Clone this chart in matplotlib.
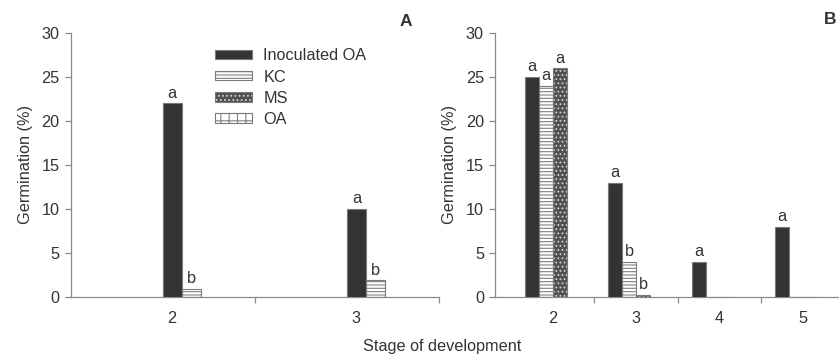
import matplotlib
matplotlib.use("Agg")
import matplotlib.pyplot as plt
from matplotlib.patches import Patch
import numpy as np

plt.rcParams['font.family'] = ['Liberation Sans', 'DejaVu Sans']
plt.rcParams['hatch.linewidth'] = 0.8

series = ["Inoculated OA", "KC", "MS", "OA"]

# Panel A
cats_a = ["2", "3"]
inoc_a = [22, 10]
kc_a = [0.9, 1.9]
letters_a_inoc = ["a", "a"]
letters_a_kc = ["b", "b"]

# Panel B
cats_b = ["2", "3", "4", "5"]
inoc_b = [25, 13, 4, 8]
kc_b = [24, 4, 0, 0]
ms_b = [26, 0.25, 0, 0]
letters_b_inoc = ["a", "a", "a", "a"]
letters_b_kc = ["a", "b", None, None]
letters_b_ms = ["a", "b", None, None]

TXT = '#333333'
SPN = '#8a8a8a'
EDGE = '#7a7a7a'
FS = 11.7

styles = {
    "Inoculated OA": dict(face='#333333', hatch=None, hcol=None),
    "KC": dict(face='white', hatch='-----', hcol='#808080'),
    "MS": dict(face='#505050', hatch='....', hcol='#d0d0d0'),
    "OA": dict(face='white', hatch='++', hcol='#808080'),
}

def draw_bars(ax, x, h, width, name):
    st = styles[name]
    if st['hatch']:
        ax.bar(x, h, width, align='edge', color=st['face'], edgecolor=st['hcol'],
               hatch=st['hatch'], linewidth=0, zorder=2)
        ax.bar(x, h, width, align='edge', fill=False, edgecolor=EDGE, linewidth=0.8, zorder=3)
    else:
        ax.bar(x, h, width, align='edge', color=st['face'], edgecolor=EDGE, linewidth=0.8, zorder=3)

def letters(ax, x, h, width, labs):
    for xi, hi, l in zip(x, h, labs):
        if l:
            ax.text(xi + width / 2, hi + 0.3, l, ha='center', va='bottom', fontsize=FS, color=TXT)

def style_axes(ax):
    for s in ['top', 'right']:
        ax.spines[s].set_visible(False)
    for s in ['left', 'bottom']:
        ax.spines[s].set_color(SPN)
        ax.spines[s].set_linewidth(0.9)
    ax.set_ylim(0, 30)
    ax.set_yticks(np.arange(0, 31, 5))
    ax.tick_params(axis='y', colors=SPN, labelcolor=TXT, labelsize=FS, length=4, width=0.9, pad=4)
    ax.set_ylabel("Germination (%)", fontsize=FS, color=TXT, labelpad=6)

fig = plt.figure(figsize=(8.39, 3.55), dpi=100)

# ----- Panel A -----
axA = fig.add_axes([70.7 / 839, 1 - 297 / 355, (439 - 70.7) / 839, (297 - 33) / 355])
style_axes(axA)
ca = np.arange(1, len(cats_a) + 1)
wa = 0.103
xa_inoc = ca
xa_kc = ca + wa
draw_bars(axA, xa_inoc, inoc_a, wa, "Inoculated OA")
draw_bars(axA, xa_kc, kc_a, wa, "KC")
letters(axA, xa_inoc, inoc_a, wa, letters_a_inoc)
letters(axA, xa_kc, kc_a, wa, letters_a_kc)
axA.set_xlim(0.5, len(cats_a) + 0.5)
axA.set_xticks(np.arange(1.5, len(cats_a) + 0.51, 1.0))
axA.set_xticklabels([])
axA.set_xticks(ca + 0.05, minor=True)
axA.set_xticklabels(cats_a, minor=True)
axA.tick_params(axis='x', which='major', colors=SPN, length=4, width=0.9)
axA.tick_params(axis='x', which='minor', length=0, labelcolor=TXT, labelsize=FS, pad=10)

handles = []
for name in series:
    st = styles[name]
    if st['hatch']:
        p1 = Patch(facecolor=st['face'], edgecolor=st['hcol'], hatch=st['hatch'], linewidth=0)
        p2 = Patch(fill=False, edgecolor=EDGE, linewidth=0.8)
        handles.append((p1, p2))
    else:
        handles.append(Patch(facecolor=st['face'], edgecolor=EDGE, linewidth=0.8))
leg = axA.legend(handles, series, loc='upper left', bbox_to_anchor=(0.36, 0.985),
                 frameon=False, fontsize=FS, handlelength=2.3, handleheight=0.5,
                 labelspacing=0.38, handletextpad=0.7, borderaxespad=0.3, labelcolor=TXT)

fig.text(406 / 839, 1 - 22 / 355, "A", ha='center', va='center',
         fontsize=12.5, fontweight='bold', color=TXT)

# ----- Panel B -----
axB = fig.add_axes([495 / 839, 1 - 297 / 355, (839 - 495) / 839, (297 - 33) / 355])
style_axes(axB)
cb = np.arange(1, len(cats_b) + 1)
wb = 0.168
xb_inoc = cb - 2 * wb
xb_kc = cb - wb
xb_ms = cb
draw_bars(axB, xb_inoc, inoc_b, wb, "Inoculated OA")
draw_bars(axB, xb_kc, kc_b, wb, "KC")
draw_bars(axB, xb_ms, ms_b, wb, "MS")
letters(axB, xb_inoc, inoc_b, wb, letters_b_inoc)
letters(axB, xb_kc, kc_b, wb, letters_b_kc)
letters(axB, xb_ms, ms_b, wb, letters_b_ms)
axB.set_xlim(0.31, 4.43)
axB.set_xticks(np.arange(1.5, len(cats_b), 1.0))
axB.set_xticklabels([])
axB.set_xticks(cb, minor=True)
axB.set_xticklabels(cats_b, minor=True)
axB.tick_params(axis='x', which='major', colors=SPN, length=4, width=0.9)
axB.tick_params(axis='x', which='minor', length=0, labelcolor=TXT, labelsize=FS, pad=10)

fig.text(830 / 839, 1 - 20 / 355, "B", ha='center', va='center',
         fontsize=12.5, fontweight='bold', color=TXT)

fig.text(442 / 839, 1 - 346 / 355, "Stage of development", ha='center', va='center',
         fontsize=FS, color=TXT)

fig.savefig("out.png", dpi=100)
